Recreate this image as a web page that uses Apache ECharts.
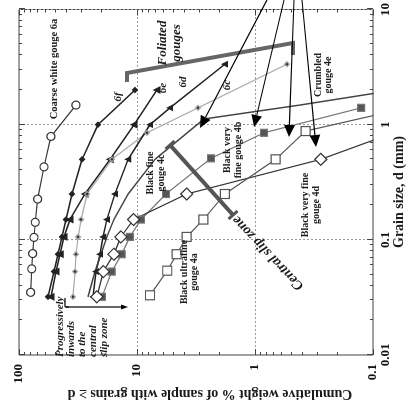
<!DOCTYPE html>
<html>
<head>
<meta charset="utf-8">
<script src="https://cdn.jsdelivr.net/npm/echarts@6/dist/echarts.min.js"></script>
<style>
html, body { margin: 0; padding: 0; background: #fff; overflow: hidden; width: 409px; height: 407px; }
/* the figure is laid out upright and turned a quarter turn counter-clockwise */
#chart { position: absolute; left: 1px; top: -1px; width: 407px; height: 409px; transform: rotate(-90deg); transform-origin: 50% 50%; }
</style>
</head>
<body>
<div id="chart"></div>
<script>
// Grain size d (mm) and cumulative weight % (grains >= d) for each gouge sample
const gouge6a_d = [0.035, 0.056, 0.076, 0.105, 0.142, 0.226, 0.43, 0.79, 1.48];
const gouge6a_w = [79.6, 78, 76.6, 74.6, 72.8, 69.5, 61.4, 53.6, 32.9];

const gouge6f_d = [0.032, 0.053, 0.075, 0.106, 0.15, 0.25, 0.5, 1.0, 2.0];
const gouge6f_w = [56.8, 50.5, 46.7, 43.2, 40.0, 35.6, 29.2, 21.4, 10.4];

const gouge6e_d = [0.032, 0.053, 0.075, 0.106, 0.15, 0.25, 0.5, 1.0, 2.0];
const gouge6e_w = [53.6, 48.6, 44.9, 41.6, 37.0, 27.6, 16.9, 10.6, 6.77];

const gouge6d_d = [0.032, 0.053, 0.075, 0.106, 0.15, 0.25, 0.5, 0.85, 1.4, 3.35];
const gouge6d_w = [34.9, 33.5, 32.9, 31.6, 29.8, 26.5, 16.3, 8.23, 3.04, 0.536];

const gouge6c_d = [0.032, 0.053, 0.075, 0.106, 0.15, 0.25, 0.5, 1.0, 1.4, 3.35];
const gouge6c_w = [23.6, 22.3, 20.6, 19.4, 18.0, 15.4, 11.9, 7.76, 5.25, 1.80];

const gouge4e_d = [0.032, 0.053, 0.075, 0.106, 0.15, 0.25, 0.5, 1.12, 1.48, 2.03];
const gouge4e_w = [26.0, 22.7, 20.2, 18.0, 15.7, 11.9, 7.04, 2.71, 0.416, 0.059];

const gouge4b_d = [0.032, 0.053, 0.075, 0.106, 0.15, 0.25, 0.51, 0.85, 1.4];
const gouge4b_w = [19.8, 16.4, 13.5, 11.5, 9.25, 5.68, 2.36, 0.839, 0.126];

const gouge4d_d = [0.032, 0.053, 0.075, 0.106, 0.15, 0.25, 0.5, 0.85];
const gouge4d_w = [21.9, 19.3, 15.7, 13.7, 10.7, 3.79, 0.277, 0.0669];

const gouge4a_d = [0.033, 0.054, 0.075, 0.106, 0.15, 0.25, 0.5, 0.88, 1.4];
const gouge4a_w = [7.76, 5.54, 4.61, 3.79, 2.74, 1.80, 0.668, 0.372, 0.0515];

// axis ranges and tick labels
const grainRange = [0.01, 10];
const weightRange = [0.1, 100];
const grainTickLabels = ['0.01', '0.1', '1', '10'];
const weightTickLabels = ['0.1', '1', '10', '100'];

const FONT = '"Liberation Serif", "Times New Roman", serif';

function pairs(d, w) { return d.map((v, i) => [v, w[i]]); }

// decade and sub-decade tick positions for the framed log axes
function logTicks(lo, hi) {
  const out = [];
  for (let e = Math.round(Math.log10(lo)); e < Math.round(Math.log10(hi)); e++) {
    for (let m = 1; m < 10; m++) out.push([m * Math.pow(10, e), m === 1 ? 6 : 3]);
  }
  out.push([hi, 6]);
  return out;
}
const tickData = [];
logTicks(grainRange[0], grainRange[1]).forEach(t => tickData.push([t[0], 1, 0, t[1]]));
logTicks(weightRange[0], weightRange[1]).forEach(t => tickData.push([1, t[0], 1, t[1]]));

function renderTick(params, api) {
  const cs = params.coordSys;
  const kind = api.value(2), len = api.value(3);
  const st = { stroke: '#444', lineWidth: 1 };
  if (kind === 0) {
    const x = Math.round(api.coord([api.value(0), 1])[0]) + 0.5;
    return { type: 'group', children: [
      { type: 'line', shape: { x1: x, y1: cs.y + cs.height, x2: x, y2: cs.y + cs.height - len }, style: st },
      { type: 'line', shape: { x1: x, y1: cs.y, x2: x, y2: cs.y + len }, style: st }
    ]};
  }
  const y = Math.round(api.coord([1, api.value(1)])[1]) + 0.5;
  return { type: 'group', children: [
    { type: 'line', shape: { x1: cs.x, y1: y, x2: cs.x + len, y2: y }, style: st },
    { type: 'line', shape: { x1: cs.x + cs.width, y1: y, x2: cs.x + cs.width - len, y2: y }, style: st }
  ]};
}

function nearestLabel(v, labels) {
  let best = labels[0], bd = Infinity;
  labels.forEach(l => { const d = Math.abs(Math.log10(+l) - Math.log10(v)); if (d < bd) { bd = d; best = l; } });
  return best;
}

function lineSeries(name, d, w, opt) {
  return Object.assign({
    name, type: 'line', data: pairs(d, w), clip: true,
    lineStyle: { color: opt.color, width: opt.width || 1.2 },
    itemStyle: { color: opt.fill, borderColor: opt.color, borderWidth: 1.2 },
    symbol: opt.symbol, symbolSize: opt.size, showSymbol: opt.symbol !== 'none',
    z: opt.z || 3
  });
}

// annotation helpers
function txt(text, x, y, size, italic, extra) {
  return Object.assign({ type: 'text', x, y, z: 20, style: {
    text, fill: '#1a1a1a', font: (italic ? 'italic ' : '') + 'bold ' + size + 'px ' + FONT,
    align: 'center', verticalAlign: 'middle' } }, extra || {});
}
function arrow(x1, y1, x2, y2, head, w) {
  const a = Math.atan2(y2 - y1, x2 - x1), c = Math.cos(a), s = Math.sin(a);
  const bx = x2 - head * c, by = y2 - head * s;
  return [
    { type: 'line', z: 20, shape: { x1, y1, x2: bx, y2: by }, style: { stroke: '#000', lineWidth: 1.2 } },
    { type: 'polygon', z: 20, shape: { points: [[x2, y2], [bx - w * s, by + w * c], [bx + w * s, by - w * c]] }, style: { fill: '#000' } }
  ];
}
function capBar(x1, y1, x2, y2, cap, color) {
  const a = Math.atan2(y2 - y1, x2 - x1), px = -Math.sin(a) * cap, py = Math.cos(a) * cap;
  const st = { stroke: color, lineWidth: 4 };
  return [
    { type: 'line', z: 15, shape: { x1, y1, x2, y2 }, style: st },
    { type: 'line', z: 15, shape: { x1: x1 - px, y1: y1 - py, x2: x1 + px, y2: y1 + py }, style: { stroke: color, lineWidth: 3 } },
    { type: 'line', z: 15, shape: { x1: x2 - px, y1: y2 - py, x2: x2 + px, y2: y2 + py }, style: { stroke: color, lineWidth: 3 } }
  ];
}

const graphics = [].concat(
  [
    txt('Grain size, d (mm)', 215, 399, 14, false),
    txt('Cumulative weight % of sample with grains \u2265 d', 13, 210, 14, false, { rotation: Math.PI / 2 }),
    txt('Coarse white gouge 6a', 338, 54, 10.5, false),
    txt('Foliated', 364, 163, 13, true),
    txt('gouges', 364, 177, 13, true),
    txt('6f', 310, 118, 11, true),
    txt('6e', 319, 163, 11, true),
    txt('6d', 325, 183, 11, true),
    txt('6c', 322, 227, 11, true),
    txt('Crumbled', 332, 318, 10, false),
    txt('gouge 4e', 332, 328, 10, false),
    txt('Black fine', 234, 150, 10, false),
    txt('gouge 4c', 234, 161, 10, false),
    txt('Black very', 257, 227, 10, false),
    txt('fine gouge 4b', 257, 238, 10, false),
    txt('Black very fine', 202, 305, 10, false),
    txt('gouge 4d', 202, 316, 10, false),
    txt('Black ultrafine', 135, 184, 10, false),
    txt('gouge 4a', 135, 194, 10, false),
    txt('Central slip zone', 154, 268, 14, true, { rotation: 0.76 }),
    { type: 'line', z: 20, shape: { x1: 109, y1: 65, x2: 100, y2: 65 }, style: { stroke: '#000', lineWidth: 1.2 } },
    { type: 'line', z: 20, shape: { x1: 100, y1: 65, x2: 100, y2: 69 }, style: { stroke: '#000', lineWidth: 1.2 } }
  ],
  ['Progressively', 'inwards', 'to the', 'central', 'slip zone'].map((t, i) =>
    txt(t, 50, 60 + i * 11, 11, true, { style: { text: t, fill: '#1a1a1a', font: 'italic bold 11px ' + FONT, align: 'left', verticalAlign: 'middle' } })),
  arrow(100, 66, 100, 128, 7, 2.5),
  arrow(407, 267, 279, 200, 12, 5.5),
  arrow(407, 284, 280, 254, 12, 5.5),
  arrow(407, 294, 270, 289, 12, 5.5),
  arrow(407, 302, 260, 316, 12, 5.5),
  [{ type: 'polyline', z: 15, shape: { points: [[325, 127], [334, 127], [364, 293], [352, 293]] }, style: { stroke: '#666', lineWidth: 4, fill: null } }],
  capBar(262, 170, 192, 233, 6, '#555')
);

const axisLabelStyle = { fontFamily: FONT, fontWeight: 'bold', fontSize: 13, color: '#111' };

const chart = echarts.init(document.getElementById('chart'), null, { renderer: 'canvas' });
chart.setOption({
  animation: false,
  backgroundColor: '#fff',
  grid: { left: 52, right: 8, top: 19, bottom: 36, show: true, borderColor: '#444', borderWidth: 1, backgroundColor: 'transparent' },
  xAxis: {
    type: 'log', logBase: 10, min: grainRange[0], max: grainRange[1],
    axisLine: { show: false }, axisTick: { show: false },
    splitLine: { show: true, lineStyle: { color: '#9a9a9a', type: [2, 2], width: 1 } },
    axisLabel: Object.assign({ margin: 6, formatter: v => nearestLabel(v, grainTickLabels) }, axisLabelStyle)
  },
  yAxis: {
    type: 'log', logBase: 10, min: weightRange[0], max: weightRange[1],
    axisLine: { show: false }, axisTick: { show: false },
    splitLine: { show: true, lineStyle: { color: '#9a9a9a', type: [2, 2], width: 1 } },
    axisLabel: Object.assign({ margin: 9, formatter: v => nearestLabel(v, weightTickLabels) }, axisLabelStyle)
  },
  graphic: graphics,
  series: [
    { type: 'custom', renderItem: renderTick, data: tickData, silent: true, clip: false, z: 10 },
    lineSeries('6a', gouge6a_d, gouge6a_w, { color: '#333', fill: '#fff', symbol: 'circle', size: 8 }),
    lineSeries('6f', gouge6f_d, gouge6f_w, { color: '#222', fill: '#222', symbol: 'diamond', size: 5, width: 1.5 }),
    lineSeries('6e', gouge6e_d, gouge6e_w, { color: '#222', fill: '#222', symbol: 'triangle', size: 6, width: 1.5 }),
    lineSeries('6d', gouge6d_d, gouge6d_w, { color: '#aaa', fill: '#333', symbol: 'diamond', size: 5 }),
    lineSeries('6c', gouge6c_d, gouge6c_w, { color: '#222', fill: '#222', symbol: 'triangle', size: 5, width: 1.5 }),
    lineSeries('4e', gouge4e_d, gouge4e_w, { color: '#444', fill: '#444', symbol: 'none', size: 0, width: 1.5 }),
    lineSeries('4b', gouge4b_d, gouge4b_w, { color: '#777', fill: '#555', symbol: 'rect', size: 7 }),
    lineSeries('4d', gouge4d_d, gouge4d_w, { color: '#333', fill: '#fff', symbol: 'diamond', size: 12 }),
    lineSeries('4a', gouge4a_d, gouge4a_w, { color: '#555', fill: '#fff', symbol: 'rect', size: 9 })
  ]
});
</script>
</body>
</html>
